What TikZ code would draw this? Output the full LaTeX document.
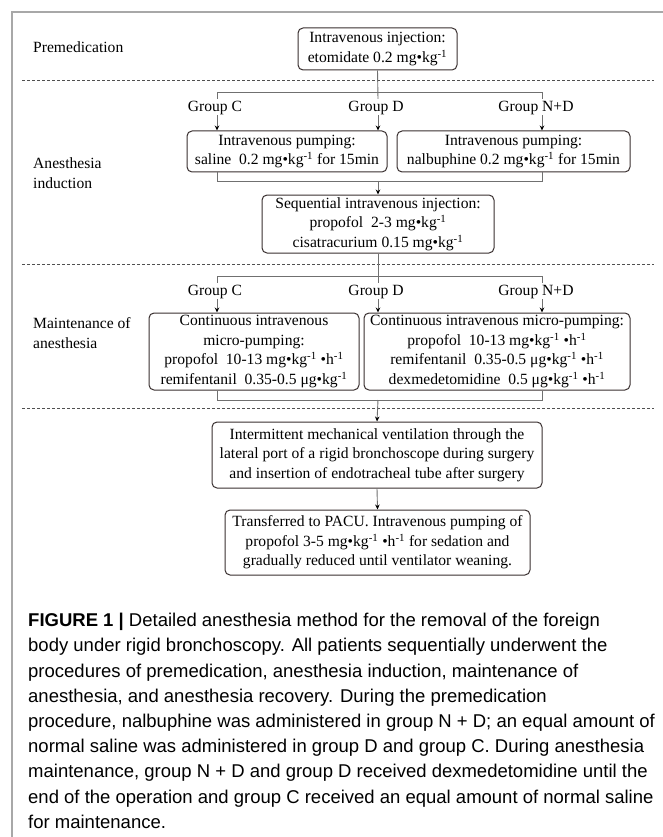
\documentclass[tikz,border=0pt]{standalone}
\usepackage{fontspec}
\setmainfont{Liberation Serif}
\newfontfamily\capfont{Liberation Sans}
\usetikzlibrary{arrows.meta}
\definecolor{boxc}{HTML}{3A3030}
\definecolor{linec}{HTML}{707070}
\definecolor{dashc}{HTML}{505050}
\definecolor{framec}{HTML}{A8A8A8}
\newcommand{\mgkg}{mg•kg\textsuperscript{-1}}
\newcommand{\ugkg}{μg•kg\textsuperscript{-1}}
\newcommand{\perh}{•h\textsuperscript{-1}}
\tikzset{
  flowbox/.style={draw=boxc, line width=1pt, rounded corners=5pt, align=center,
    inner sep=0pt, font=\fontsize{15.6}{19.5}\selectfont},
  lbl/.style={inner sep=0pt, font=\fontsize{15.6}{19.5}\selectfont},
  conn/.style={draw=linec, line width=0.9pt},
  arr/.style={conn, -{Stealth[length=5pt,width=4.5pt,color=black]}},
  sep/.style={draw=dashc, line width=0.8pt, dash pattern=on 3pt off 2pt},
  frame/.style={draw=framec, line width=2pt},
}
\begin{document}
\begin{tikzpicture}[x=1pt,y=-1pt]
\useasboundingbox (0,0) rectangle (663,837);
\fill[white] (0,0) rectangle (663,837);
\draw[frame] (663,12) -- (12,12) -- (12,837);

% ---- Premedication
\node[lbl, anchor=west] (premed) at (33,47) {Premedication};
\node[flowbox, minimum width=159pt, minimum height=42pt] (inj) at (377.5,49)
  {Intravenous injection:\\etomidate 0.2 \mgkg};
\draw[sep] (22,80) -- (654,80);

% ---- Anesthesia induction
\coordinate (b1c) at (217,92);
\coordinate (b1d) at (378,92);
\coordinate (b1n) at (542,92);
\node[lbl] (gc1) at (215,108) {Group C};
\node[lbl] (gd1) at (376,108) {Group D};
\node[lbl] (gn1) at (536,108) {Group N+D};
\node[lbl, anchor=west, align=left] (induct) at (33,173) {Anesthesia\\induction};
\node[flowbox, minimum width=200pt, minimum height=41pt] (sal) at (287,151.5)
  {Intravenous pumping:\\saline\ \ 0.2 \mgkg{} for 15min};
\node[flowbox, minimum width=233pt, minimum height=41pt] (nal) at (513.5,151.5)
  {Intravenous pumping:\\nalbuphine 0.2 \mgkg{} for 15min};
\node[flowbox, minimum width=232pt, minimum height=58pt] (seq) at (378,224)
  {Sequential intravenous injection:\\propofol\ \ 2-3 \mgkg\\cisatracurium 0.15 \mgkg};
\coordinate (m1) at (378,181);

\draw[conn] (inj.south) -- ([yshift=2pt]b1d |- gd1.north);
\draw[conn] ([yshift=2pt]b1c |- gc1.north) -- (b1c) -- (b1n) -- ([yshift=2pt]b1n |- gn1.north);
\draw[arr] (b1c |- gc1.south) -- (b1c |- sal.north);
\draw[arr] (b1d |- gd1.south) -- (b1d |- sal.north);
\draw[arr] (b1n |- gn1.south) -- (b1n |- nal.north);
\draw[conn] (b1c |- sal.south) -- (b1c |- m1) -- (b1n |- m1) -- (b1n |- nal.south);
\draw[arr] (m1) -- (seq.north);
\draw[sep] (22,264) -- (654,264);

% ---- Maintenance
\coordinate (b2c) at (217,276);
\coordinate (b2d) at (378,276);
\coordinate (b2n) at (542,276);
\node[lbl] (gc2) at (215,292) {Group C};
\node[lbl] (gd2) at (376,292) {Group D};
\node[lbl] (gn2) at (536,292) {Group N+D};
\node[lbl, anchor=west, align=left] (maint) at (33,333) {Maintenance of\\anesthesia};
\node[flowbox, minimum width=210pt, minimum height=77pt] (bc) at (254,351.5)
  {Continuous intravenous\\micro-pumping:\\propofol\ \ 10-13 \mgkg{} \perh\\remifentanil\ \ 0.35-0.5 \ugkg};
\node[flowbox, minimum width=266pt, minimum height=77pt] (bnd) at (497,351.5)
  {Continuous intravenous micro-pumping:\\propofol\ \ 10-13 \mgkg{} \perh\\remifentanil\ \ 0.35-0.5 \ugkg{} \perh\\dexmedetomidine\ \ 0.5 \ugkg{} \perh};
\coordinate (m2) at (378,400);

\draw[conn] (seq.south) -- ([yshift=2pt]b2d |- gd2.north);
\draw[conn] ([yshift=2pt]b2c |- gc2.north) -- (b2c) -- (b2n) -- ([yshift=2pt]b2n |- gn2.north);
\draw[arr] (b2c |- gc2.south) -- (b2c |- bc.north);
\draw[arr] (b2d |- gd2.south) -- (b2d |- bnd.north);
\draw[arr] (b2n |- gn2.south) -- (b2n |- bnd.north);
\draw[conn] (b2c |- bc.south) -- (b2c |- m2) -- (b2n |- m2) -- (b2n |- bnd.south);
\draw[sep] (22,408) -- (654,408);

% ---- Recovery
\node[flowbox, minimum width=330pt, minimum height=66pt] (vent) at (377,455)
  {Intermittent mechanical ventilation through the\\lateral port of a rigid bronchoscope during surgery\\and insertion of endotracheal tube after surgery};
\node[flowbox, minimum width=305pt, minimum height=65pt] (pacu) at (377.5,542.5)
  {Transferred to PACU. Intravenous pumping of\\propofol 3-5 \mgkg{} \perh{} for sedation and\\gradually reduced until ventilator weaning.};
\draw[arr] (m2) -- (vent.north);
\draw[arr] (vent.south) -- (pacu.north);

% ---- Caption
\node[anchor=north west, inner sep=0pt, align=left,
      font=\capfont\fontsize{18.5}{25.2}\selectfont] (cap) at (28,613)
  {\textbf{FIGURE 1 |} Detailed anesthesia method for the removal of the foreign\\
   body under rigid bronchoscopy. All patients sequentially underwent the\\
   procedures of premedication, anesthesia induction, maintenance of\\
   anesthesia, and anesthesia recovery. During the premedication\\
   procedure, nalbuphine was administered in group N + D; an equal amount of\\
   normal saline was administered in group D and group C. During anesthesia\\
   maintenance, group N + D and group D received dexmedetomidine until the\\
   end of the operation and group C received an equal amount of normal saline\\
   for maintenance.};
\end{tikzpicture}
\end{document}
